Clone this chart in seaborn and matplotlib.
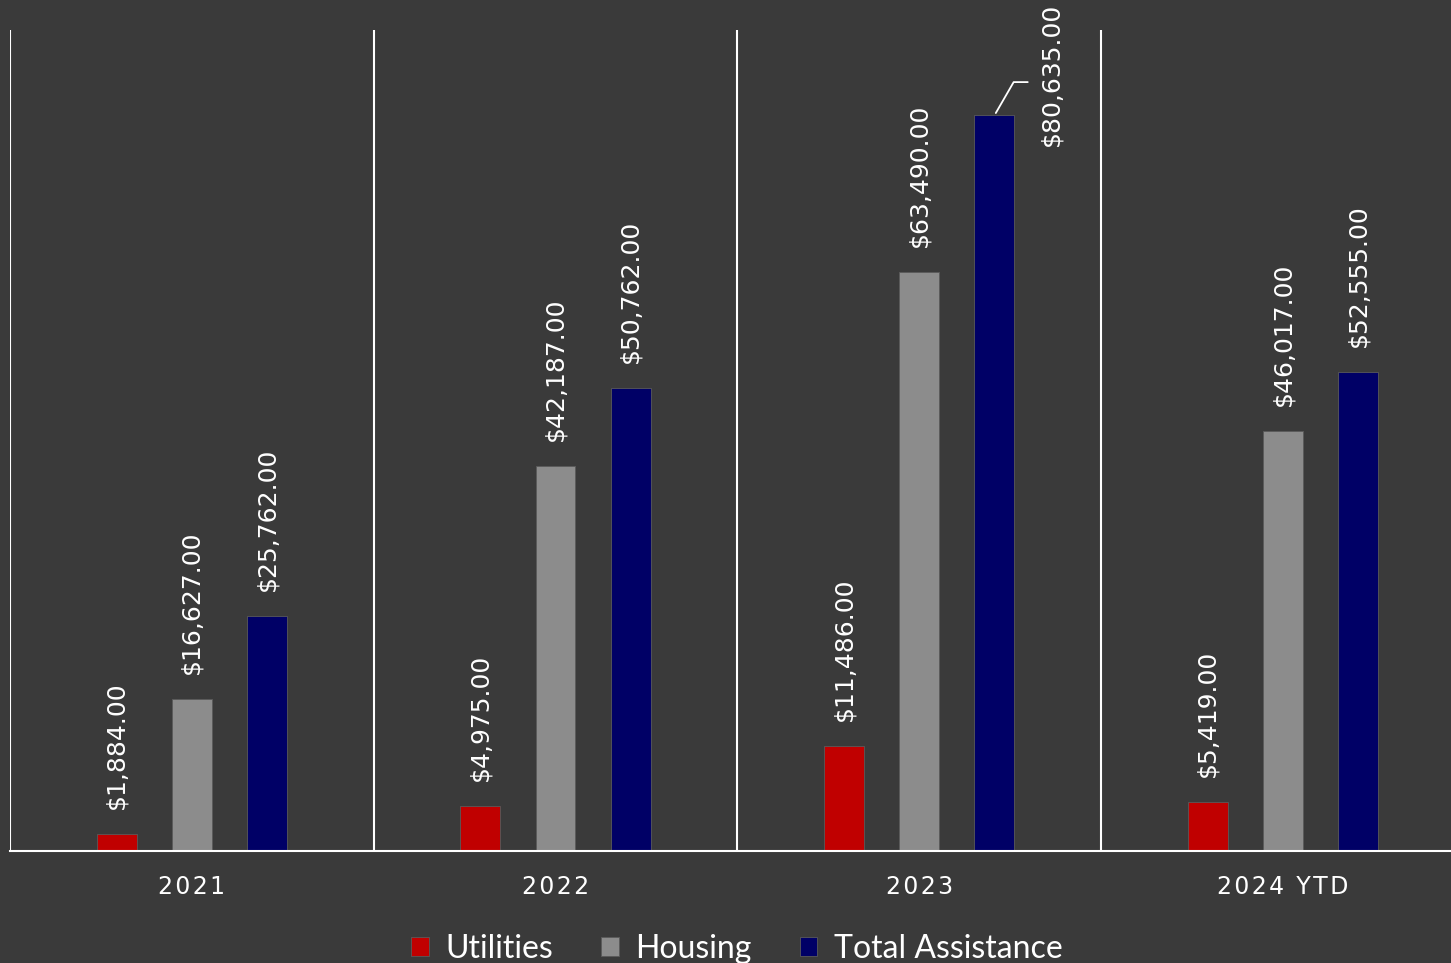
import matplotlib
matplotlib.use("Agg")
import matplotlib.pyplot as plt
from matplotlib.patches import Rectangle
import seaborn as sns
import pandas as pd

years = ["2021", "2022", "2023", "2024 YTD"]
utilities = [1884, 4975, 11486, 5419]
housing = [16627, 42187, 63490, 46017]
total_assistance = [25762, 50762, 80635, 52555]
series_names = ["Utilities", "Housing", "Total Assistance"]
colors = ["#C00000", "#8C8C8C", "#000066"]

rows = []
for name, vals in zip(series_names, [utilities, housing, total_assistance]):
    for y, v in zip(years, vals):
        rows.append({"Year": y, "Series": name, "Value": v})
df = pd.DataFrame(rows)

sns.set_theme(style="white")
plt.rcParams["font.family"] = ["Lato", "DejaVu Sans"]

W, H = 1451, 963
fig = plt.figure(figsize=(W / 100, H / 100), dpi=100)
bg = "#343434"
fig.patch.set_facecolor(bg)
plt.rcParams["hatch.linewidth"] = 1.0
fig.patches.append(Rectangle((0, 0), 1, 1, transform=fig.transFigure,
                             facecolor=bg, edgecolor="#3a3a3a", hatch="/" * 22,
                             lw=0, zorder=-10))

cat_px = 363.7
ax = fig.add_axes([10 / W, 1 - 851 / H, 4 * cat_px / W, 821 / H])
ax.set_facecolor("none")

sns.barplot(data=df, x="Year", y="Value", hue="Series", palette=colors,
            width=0.62, gap=0.47, ax=ax, legend=True, saturation=1,
            edgecolor="#5a5a5a", linewidth=0.6)

ymax = 90000
ax.set_ylim(0, ymax)
ax.set_xlim(-0.5, len(years) - 0.5)

for xb in [i - 0.5 for i in range(len(years) + 1)]:
    ax.vlines(xb, 0, ymax, color="white", lw=1.5, zorder=1)

for s in ["top", "right", "left"]:
    ax.spines[s].set_visible(False)
ax.spines["bottom"].set_color("white")
ax.spines["bottom"].set_linewidth(1.5)
ax.set_yticks([])
ax.set_xlabel("")
ax.set_ylabel("")
ax.tick_params(axis="x", length=0, pad=17, colors="white", labelsize=17)
spaced = ["\u200a".join(list(y)) for y in years]
ax.set_xticks(range(len(years)))
ax.set_xticklabels(spaced, color="white", fontsize=17, family=["DejaVu Sans"])

lab_fs = 18
lab_font = ["DejaVu Sans"]
for cont in ax.containers:
    for bar in cont:
        h = bar.get_height()
        xc = bar.get_x() + bar.get_width() / 2
        lab = f"${h:,.2f}"
        if h > 0.85 * ymax:
            ax.annotate(lab, xy=(xc, h), xytext=(41, -22), textcoords="offset points",
                        rotation=90, ha="center", va="bottom", color="white",
                        fontsize=lab_fs, family=lab_font)
            ax.annotate("", xy=(xc, h), xytext=(26, 24), textcoords="offset points",
                        arrowprops=dict(arrowstyle="-", color="white", lw=1.3,
                                        connectionstyle="angle,angleA=0,angleB=60,rad=0"))
        else:
            ax.annotate(lab, xy=(xc, h), xytext=(0, 18), textcoords="offset points",
                        rotation=90, ha="center", va="bottom", color="white",
                        fontsize=lab_fs, family=lab_font)

leg = ax.get_legend()
handles = leg.legend_handles
leg.remove()
fig.legend(handles, series_names, loc="center", bbox_to_anchor=(737 / W, 1 - 949 / H),
           ncol=3, frameon=False, fontsize=23, labelcolor="white",
           handlelength=0.55, handleheight=0.55, handletextpad=0.52, columnspacing=1.5)

fig.savefig("out.png", dpi=100, facecolor=fig.get_facecolor())
